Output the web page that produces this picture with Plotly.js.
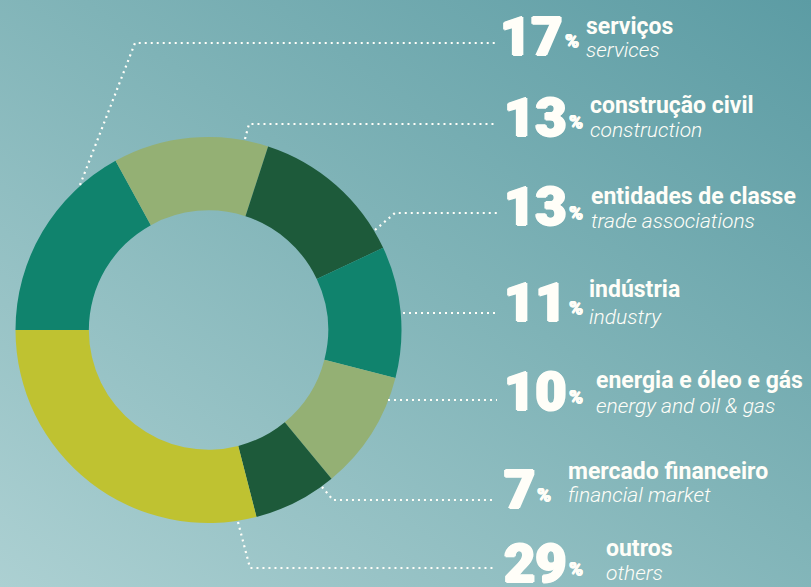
<!DOCTYPE html>
<html>
<head>
<meta charset="utf-8">
<script src="https://cdn.plot.ly/plotly-3.0.1.min.js"></script>
<style>
  html, body { margin:0; padding:0; width:811px; height:587px; overflow:hidden; }
  body { background: linear-gradient(to bottom left, #5c9ca4 0%, #7fb3b7 45%, #acd0d2 100%); }
  #chart { width:811px; height:587px; }
</style>
</head>
<body>
<div id="chart"></div>
<script>
// ---- data ----
const categoriesPt = ['serviços','construção civil','entidades de classe','indústria','energia e óleo e gás','mercado financeiro','outros'];
const categoriesEn = ['services','construction','trade associations','industry','energy and oil & gas','financial market','others'];
const values = [17, 13, 13, 11, 10, 7, 29];
const sliceColors = ['#10836d','#94b074','#1d5a3a','#10836d','#94b074','#1d5a3a','#bfc231'];

// ---- layout (pixel positions of the labels on the right) ----
const W = 811, H = 587;
const px = x => x / W;
const py = y => 1 - y / H;
const numX = [499, 503, 503, 503, 503, 503, 503];
const numY = [38, 119, 209, 304, 393, 491, 565];
const titleX = [585, 589, 590, 577, 595, 567, 605];
const titleY = [26, 105, 196, 290, 381, 471, 548];
const subY = [50, 130, 221, 317, 406, 495, 573];
const leaders = [
  [[80,185],[135,43],[497,43]],
  [[245,139],[249,124],[497,124]],
  [[375,230],[395,213],[497,213]],
  [[403,313],[497,313]],
  [[388,400],[497,400]],
  [[322,487],[333,500],[493,500]],
  [[238,522],[250,568],[495,568]]
];

const pieCx = 208.5, pieCy = 330, pieR = 193;

const numFamily = 'Roboto, Inter, sans-serif';
const numSize = 54, numWeight = 900;
const pctSize = 19;
const textFamily = 'Roboto, "Open Sans", sans-serif';
const white = '#fffef8';
const heavy = '1.2px 0 0 ' + white + ', -1.2px 0 0 ' + white + ', 0 1.2px 0 ' + white + ', 0 -1.2px 0 ' + white;
const heavySmall = '0.5px 0 0 ' + white + ', -0.5px 0 0 ' + white + ', 0 0.5px 0 ' + white + ', 0 -0.5px 0 ' + white;

const ctx = document.createElement('canvas').getContext('2d');
function textWidth(str, weight, size, family) {
  ctx.font = weight + ' ' + size + 'px ' + family;
  return ctx.measureText(str).width;
}

const annotations = [];
values.forEach((v, i) => {
  const nw = textWidth(String(v), numWeight, numSize, numFamily);
  const pctLeft = numX[i] + nw + 2;
  const pw = textWidth('%', numWeight, pctSize, numFamily);
  const tx = Math.max(titleX[i], pctLeft + pw + 6);
  annotations.push({
    xref:'paper', yref:'paper', x:px(numX[i]), y:py(numY[i] - 2), xanchor:'left', yanchor:'middle',
    text:String(v), showarrow:false, borderpad:0,
    font:{family:numFamily, size:numSize, weight:numWeight, color:white, shadow:heavy}
  });
  annotations.push({
    xref:'paper', yref:'paper', x:px(pctLeft), y:py(numY[i] + 3), xanchor:'left', yanchor:'middle',
    text:'%', showarrow:false, borderpad:0,
    font:{family:numFamily, size:pctSize, weight:numWeight, color:white, shadow:heavySmall}
  });
  annotations.push({
    xref:'paper', yref:'paper', x:px(tx), y:py(titleY[i]), xanchor:'left', yanchor:'middle',
    text:categoriesPt[i], showarrow:false, borderpad:0,
    font:{family:textFamily, size:23, weight:700, color:white}
  });
  annotations.push({
    xref:'paper', yref:'paper', x:px(tx), y:py(subY[i]), xanchor:'left', yanchor:'middle',
    text:categoriesEn[i], showarrow:false, borderpad:0,
    font:{family:textFamily, size:21, weight:300, style:'italic', color:white}
  });
});

const shapes = leaders.map(pts => ({
  type:'path', xref:'paper', yref:'paper',
  path: pts.map((p, k) => (k ? 'L' : 'M') + px(p[0]) + ',' + py(p[1])).join(' '),
  line:{color:white, width:2.2, dash:'2px,4px'}
}));

const trace = {
  type:'pie',
  labels: categoriesPt,
  values: values,
  sort:false,
  direction:'clockwise',
  rotation:-90,
  hole:0.62,
  textinfo:'none',
  hoverinfo:'label+percent',
  marker:{colors:sliceColors, line:{width:0}},
  domain:{x:[px(pieCx - pieR), px(pieCx + pieR)], y:[py(pieCy + pieR), py(pieCy - pieR)]},
  showlegend:false
};

const layout = {
  width:W, height:H,
  margin:{l:0, r:0, t:0, b:0},
  paper_bgcolor:'rgba(0,0,0,0)',
  plot_bgcolor:'rgba(0,0,0,0)',
  showlegend:false,
  annotations: annotations,
  shapes: shapes
};

Plotly.newPlot('chart', [trace], layout, {displayModeBar:false, staticPlot:true});
</script>
</body>
</html>
